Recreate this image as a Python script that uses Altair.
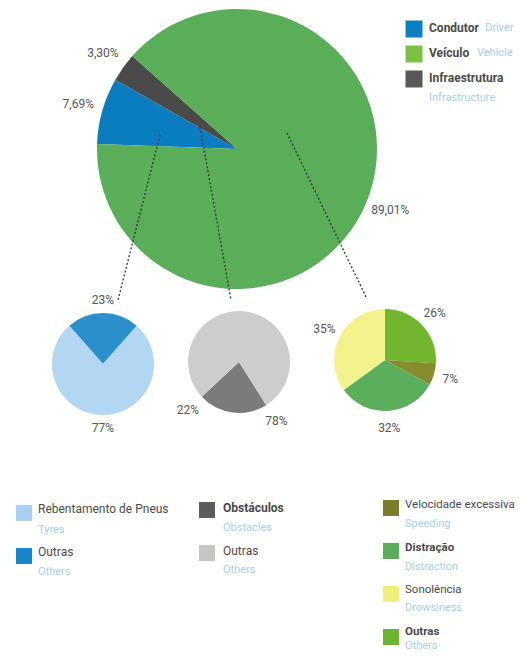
import math
import altair as alt
import pandas as pd

# ---------------- data ----------------
main_cats = ["Condutor", "Infraestrutura", "Veículo"]
main_values = [7.69, 3.30, 89.01]
main_labels = ["7,69%", "3,30%", "89,01%"]

driver_cats = ["Outras", "Rebentamento de Pneus"]
driver_values = [23, 77]
driver_labels = ["23%", "77%"]

infra_cats = ["Obstáculos", "Outras"]
infra_values = [22, 78]
infra_labels = ["22%", "78%"]

vehicle_cats = ["Outras", "Velocidade excessiva", "Distração", "Sonolência"]
vehicle_values = [26, 7, 32, 35]
vehicle_labels = ["26%", "7%", "32%", "35%"]

legend_main_pt = ["Condutor", "Veículo", "Infraestrutura"]
legend_main_en = ["Driver", "Vehicle", "Infrastructure"]
legend_driver_pt = ["Rebentamento de Pneus", "Outras"]
legend_driver_en = ["Tyres", "Others"]
legend_infra_pt = ["Obstáculos", "Outras"]
legend_infra_en = ["Obstacles", "Others"]
legend_vehicle_pt = ["Velocidade excessiva", "Distração", "Sonolência", "Outras"]
legend_vehicle_en = ["Speeding", "Distraction", "Drowsiness", "Others"]

# ---------------- styles ----------------
FONT = "Roboto"
LABEL_COLOR = "#555555"
PT_COLOR = "#4a4a4a"
EN_COLOR = "#a8cdee"

main_colors = ["#0a7dc0", "#4a4a4a", "#5aae5a"]
driver_colors = ["#2a8fcb", "#b3d6f3"]
infra_colors = ["#7b7b7b", "#cdcdcd"]
vehicle_colors = ["#72b52f", "#878c2e", "#5aae5c", "#f2f38c"]

dummy = pd.DataFrame({"k": [0]})


def pie(cats, values, labels, colors, cx, cy, r, start_deg, label_r, label_at_end=False):
    df = pd.DataFrame({"cat": cats, "value": values, "label": labels,
                       "order": list(range(len(cats)))})
    a0 = math.radians(start_deg)
    tscale = alt.Scale(range=[a0, a0 + 2 * math.pi])
    base = alt.Chart(df)
    arc = base.mark_arc(radius=r).encode(
        theta=alt.Theta("value:Q", stack=True, scale=tscale),
        order=alt.Order("order:Q"),
        x=alt.value(cx), y=alt.value(cy),
        color=alt.Color("cat:N", scale=alt.Scale(domain=cats, range=colors), legend=None),
    )
    tmark = base.mark_text(radius=label_r, font=FONT, fontSize=12, color=LABEL_COLOR)
    if label_at_end:
        txt = tmark.transform_window(
            cum="sum(value)", sort=[alt.SortField("order")], frame=[None, 0]
        ).encode(theta=alt.Theta("cum:Q", stack=False, scale=tscale),
                 x=alt.value(cx), y=alt.value(cy), text="label:N")
    else:
        txt = tmark.encode(theta=alt.Theta("value:Q", stack=True, scale=tscale),
                           order=alt.Order("order:Q"),
                           x=alt.value(cx), y=alt.value(cy), text="label:N")
    return alt.layer(arc, txt)


def connector(x1, y1, x2, y2):
    return alt.Chart(dummy).mark_rule(color="#333333", strokeWidth=1.3,
                                      strokeDash=[2, 2]).encode(
        x=alt.value(x1), y=alt.value(y1), x2=alt.value(x2), y2=alt.value(y2))


def legend_item(sq_x, sq_y, color, pt, en, text_x, pt_y, en_x, en_y,
                bold, size=16, fs=12):
    sq = alt.Chart(dummy).mark_square(size=size * size, opacity=1, color=color).encode(
        x=alt.value(sq_x), y=alt.value(sq_y))
    t1 = alt.Chart(dummy).mark_text(align="left", baseline="middle", font=FONT,
                                    fontSize=fs, color=PT_COLOR,
                                    fontWeight="bold" if bold else "normal").encode(
        x=alt.value(text_x), y=alt.value(pt_y), text=alt.value(pt))
    t2 = alt.Chart(dummy).mark_text(align="left", baseline="middle", font=FONT,
                                    fontSize=11, color=EN_COLOR).encode(
        x=alt.value(en_x), y=alt.value(en_y), text=alt.value(en))
    return [sq, t1, t2]


layers = []
layers.append(pie(main_cats, main_values, main_labels, main_colors,
                  229, 141, 140, 272, 165))
layers.append(pie(driver_cats, driver_values, driver_labels, driver_colors,
                  95, 356, 51, 318.6, 64))
layers.append(pie(infra_cats, infra_values, infra_labels, infra_colors,
                  231, 354, 51, 147.8, 70, label_at_end=True))
layers.append(pie(vehicle_cats, vehicle_values, vehicle_labels, vehicle_colors,
                  377, 352, 51, 0, 68))

layers += [connector(152, 127, 110, 292),
           connector(192, 119, 223, 292),
           connector(279, 125, 359, 291)]

# main legend (top right)
main_leg_colors = ["#0b7fc1", "#7cc242", "#595959"]
main_rows = [21, 46, 71]
main_en_pos = [(477, 20), (469, 45), (421, 90)]
for i in range(3):
    layers += legend_item(406, main_rows[i], main_leg_colors[i],
                          legend_main_pt[i], legend_main_en[i],
                          421, main_rows[i] - 1, main_en_pos[i][0], main_en_pos[i][1],
                          True, size=17, fs=12)

# driver legend
driver_leg_colors = ["#a9d0f0", "#1a86c8"]
for i, (sy, py, ey) in enumerate([(505, 501, 522), (548, 544, 564)]):
    layers += legend_item(16, sy, driver_leg_colors[i], legend_driver_pt[i],
                          legend_driver_en[i], 30, py, 30, ey, False)

# infra legend
infra_leg_colors = ["#5d5d5d", "#c5c5c5"]
infra_bold = [True, False]
for i, (sy, py, ey) in enumerate([(502, 500, 520), (545, 543, 562)]):
    layers += legend_item(199, sy, infra_leg_colors[i], legend_infra_pt[i],
                          legend_infra_en[i], 215, py, 215, ey, infra_bold[i])

# vehicle legend
vehicle_leg_colors = ["#7c7c2c", "#5cad5a", "#eef07c", "#6cb52f"]
vehicle_bold = [False, True, False, True]
for i, (sy, py, ey) in enumerate([(500, 497, 516), (543, 540, 559),
                                  (586, 582, 600), (629, 624, 638)]):
    layers += legend_item(383, sy, vehicle_leg_colors[i], legend_vehicle_pt[i],
                          legend_vehicle_en[i], 397, py, 397, ey, vehicle_bold[i],
                          fs=11.5)

chart = alt.layer(*layers).resolve_scale(
    theta="independent", color="independent"
).properties(
    width=509, height=644, padding=0,
    autosize=alt.AutoSizeParams(type="none"),
    background="white",
).configure_view(stroke=None)

chart.save("out.html", embed_options={"renderer": "svg", "actions": False})
